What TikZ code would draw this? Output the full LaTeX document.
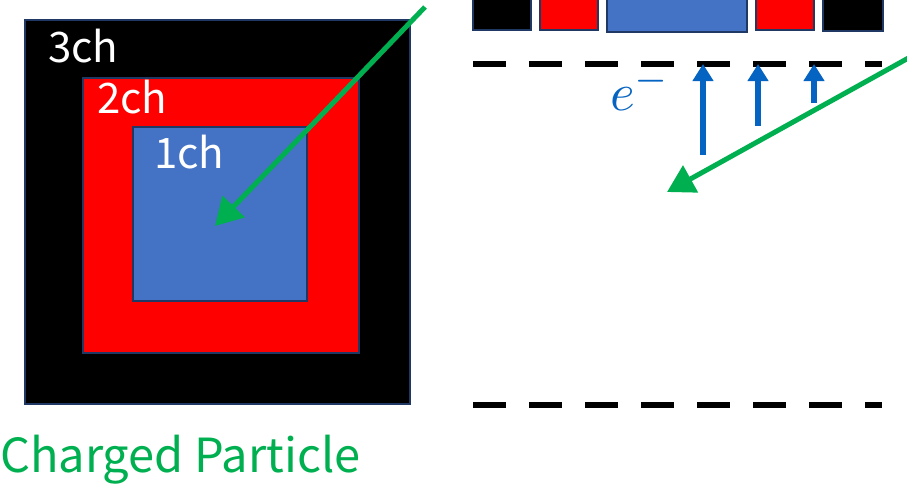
\documentclass[tikz,border=0pt]{standalone}
\usepackage{fontspec}
\setmainfont{Noto Sans CJK JP}
\usepackage{xcolor}
\usetikzlibrary{arrows.meta}

\definecolor{padblue}{HTML}{4472C4}
\definecolor{padred}{HTML}{FF0000}
\definecolor{padedge}{HTML}{203864}
\definecolor{trackgreen}{HTML}{00B050}
\definecolor{eblue}{HTML}{0563C1}

\begin{document}
\begin{tikzpicture}[x=1pt, y=-1pt,
    pad/.style={draw=padedge, line width=1.5pt},
    chlabel/.style={text=white, anchor=base west, inner sep=0pt, font=\fontsize{42}{42}\selectfont},
    track/.style={draw=trackgreen, line width=5pt, -{Triangle[length=27pt, width=30pt]}},
    drift/.style={draw=eblue, line width=6pt, -{Triangle[length=17pt, width=20pt]}},
    plane/.style={line width=6pt, dash pattern=on 33pt off 23pt}]
    \clip (0,0) rectangle (907,485);

    % Front view: pads one inside the other
    \draw[pad, fill=black] (25,20) rectangle (410,404);
    \draw[pad, fill=padred] (83,78) rectangle (359,353);
    \draw[pad, fill=padblue] (133,127) rectangle (307,301);
    \node[chlabel] (ch3) at (48,62) {3ch};
    \node[chlabel] (ch2) at (97,113) {2ch};
    \node[chlabel] (ch1) at (154,168) {1ch};
    \node[text=trackgreen, anchor=base west, inner sep=0pt, font=\fontsize{47}{47}\selectfont] (title) at (0,472) {Charged Particle};

    % Track into the pads
    \coordinate (trkin) at (425,7);
    \coordinate (trkhit) at (215,226);
    \draw[track] (trkin) -- (trkhit);

    % Side view: readout pads
    \draw[pad, fill=black] (473,-10) rectangle (531,30);
    \draw[pad, fill=padred] (540,-10) rectangle (598,30);
    \draw[pad, fill=padblue] (607,-10) rectangle (747,32);
    \draw[pad, fill=padred] (756,-10) rectangle (814,30);
    \draw[pad, fill=black] (823,-10) rectangle (883,31);

    % Grid planes
    \coordinate (topl) at (473,64);
    \coordinate (topr) at (882,64);
    \coordinate (botl) at (473,405);
    \coordinate (botr) at (882,405);
    \draw[plane] (topl) -- (topr);
    \draw[plane] (botl) -- (botr);

    % Drifting electrons
    \coordinate (ea) at (703,155);
    \coordinate (eb) at (758,126);
    \coordinate (ec) at (814,103);
    \draw[drift] (ea) -- (ea |- topl);
    \draw[drift] (eb) -- (eb |- topl);
    \draw[drift] (ec) -- (ec |- topl);
    \node[text=eblue, anchor=base west, inner sep=0pt] (elec) at (610,110) {\scalebox{5.3}{$e^{-}$}};

    % Track through the gas
    \coordinate (gasin) at (912,56);
    \coordinate (gashit) at (667,192);
    \draw[track] (gasin) -- (gashit);
\end{tikzpicture}
\end{document}
